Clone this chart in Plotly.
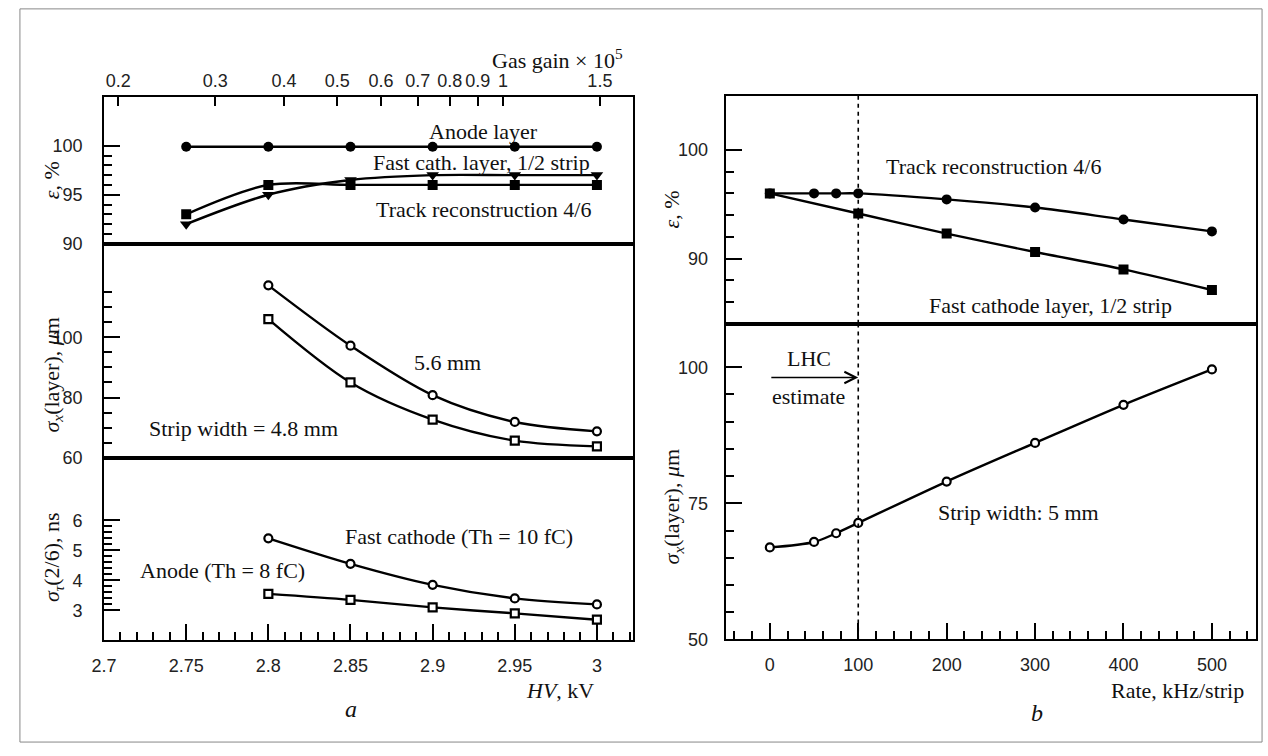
import plotly.graph_objects as go

W, H = 1268, 756

# ---------------- data: panel a (HV scan) ----------------
hv_eff = [2.75, 2.8, 2.85, 2.9, 2.95, 3.0]
gas_gain = [0.266, 0.375, 0.53, 0.75, 1.05, 1.5]
eff_anode = [99.9, 99.9, 99.9, 99.9, 99.9, 99.9]
eff_fast_cath = [92.0, 95.0, 96.5, 97.0, 97.0, 97.0]
eff_track = [93.0, 96.0, 96.0, 96.0, 96.0, 96.0]

hv_res = [2.8, 2.85, 2.9, 2.95, 3.0]
sigx_56 = [117.2, 97.2, 80.8, 71.9, 68.8]
sigx_48 = [106.0, 85.0, 72.7, 65.7, 63.8]

sigt_cath = [5.40, 4.55, 3.85, 3.40, 3.20]
sigt_anode = [3.55, 3.35, 3.10, 2.90, 2.69]

# ---------------- data: panel b (rate scan) ----------------
rate_track = [0, 50, 75, 100, 200, 300, 400, 500]
eff_track_rate = [96.0, 96.0, 96.0, 96.0, 95.45, 94.7, 93.6, 92.5]
rate_cath = [0, 100, 200, 300, 400, 500]
eff_cath_rate = [96.0, 94.15, 92.3, 90.6, 89.0, 87.1]
rate_sig = [0, 50, 75, 100, 200, 300, 400, 500]
sigx_rate = [66.9, 67.9, 69.5, 71.4, 79.0, 86.1, 93.1, 99.6]
lhc_rate = 100

gain_ticks = [0.2, 0.3, 0.4, 0.5, 0.6, 0.7, 0.8, 0.9, 1, 1.5]
gain_ticktext = ["0.2", "0.3", "0.4", "0.5", "0.6", "0.7", "0.8", "0.9", "1", "1.5"]


def px(x):
    return x / W


def py(y):
    return 1 - y / H


SERIF = "Liberation Serif, Times New Roman, serif"
SANS = "Liberation Sans, Arial, sans-serif"
LW = 2.4

fig = go.Figure()


def line_trace(x, y, xa, ya, symbol, size, open_=False):
    fig.add_trace(go.Scatter(
        x=x, y=y, xaxis=xa, yaxis=ya, mode="lines+markers",
        line=dict(color="black", width=LW, shape="spline", smoothing=0.9),
        marker=dict(symbol=symbol, size=size,
                    color="white" if open_ else "black",
                    line=dict(color="black", width=2.2 if open_ else 0)),
        showlegend=False, hoverinfo="skip"))


# panel a, top (efficiency)
line_trace(hv_eff, eff_anode, "x3", "y3", "circle", 10)
line_trace(hv_eff, eff_fast_cath, "x3", "y3", "triangle-down", 11)
line_trace(hv_eff, eff_track, "x3", "y3", "square", 10)
# invisible trace carrying the gas gain for the top axis
fig.add_trace(go.Scatter(x=gas_gain, y=eff_anode, xaxis="x4", yaxis="y3",
                         mode="markers", marker=dict(opacity=0),
                         showlegend=False, hoverinfo="skip"))
# panel a, middle (sigma_x)
line_trace(hv_res, sigx_56, "x2", "y2", "circle", 8, True)
line_trace(hv_res, sigx_48, "x2", "y2", "square", 8, True)
# panel a, bottom (sigma_t)
line_trace(hv_res, sigt_cath, "x", "y", "circle", 8, True)
line_trace(hv_res, sigt_anode, "x", "y", "square", 8, True)
# panel b, top (efficiency)
line_trace(rate_track, eff_track_rate, "x6", "y6", "circle", 10)
line_trace(rate_cath, eff_cath_rate, "x6", "y6", "square", 10)
# panel b, bottom (sigma_x)
line_trace(rate_sig, sigx_rate, "x5", "y5", "circle", 8, True)

tickfont = dict(family=SANS, size=18, color="#222")

common_ax = dict(showline=True, linewidth=2, linecolor="black", mirror=True,
                 showgrid=False, zeroline=False, tickfont=tickfont,
                 ticks="inside", tickcolor="black", tickwidth=2)
noticks_ax = {k: v for k, v in common_ax.items() if k != "ticks"}


def minor(**kw):
    return dict(ticklen=8, ticks="inside", tickcolor="black", tickwidth=2, **kw)


xa_left = [px(92), px(626)]
xa_right = [px(720), px(1256)]

fig.update_layout(
    width=W, height=H, margin=dict(l=0, r=0, t=0, b=0),
    paper_bgcolor="white", plot_bgcolor="white",
    # ---- left bottom
    xaxis=dict(**common_ax, domain=xa_left, anchor="y", range=[2.7, 3.0217],
               tickvals=[2.7, 2.75, 2.8, 2.85, 2.9, 2.95, 3.0],
               ticktext=["2.7", "2.75", "2.8", "2.85", "2.9", "2.95", "3"],
               ticklen=16, ticklabelstandoff=8,
               minor=minor(dtick=0.01, tick0=2.7)),
    yaxis=dict(**common_ax, domain=[py(649), py(464)], anchor="x", range=[2.0, 8.08],
               tickvals=[3, 4, 5, 6], ticklen=16, ticklabelstandoff=16,
               minor=minor(tickvals=[3.2, 3.4, 3.6, 3.8, 4.2, 4.4, 4.6, 4.8,
                                     5.2, 5.4, 5.6, 5.8])),
    # ---- left middle
    xaxis2=dict(**noticks_ax, ticks="", domain=xa_left, anchor="y2", matches="x",
                showticklabels=False),
    yaxis2=dict(**common_ax, domain=[py(464), py(247)], anchor="x2", range=[60, 131],
                tickvals=[60, 80, 100], ticklen=16, ticklabelstandoff=16,
                minor=minor(tickvals=[65, 70, 75, 85, 90, 95, 105, 110, 115])),
    # ---- left top
    xaxis3=dict(**noticks_ax, ticks="", domain=xa_left, anchor="y3", matches="x",
                showticklabels=False),
    yaxis3=dict(**common_ax, domain=[py(247), py(98)], anchor="x3", range=[90, 105],
                tickvals=[90, 95, 100], ticklen=16, ticklabelstandoff=16,
                minor=minor(tickvals=[91, 92, 93, 94, 96, 97, 98, 99])),
    xaxis4=dict(showline=False, showgrid=False, zeroline=False, tickfont=tickfont,
                overlaying="x3", side="top", anchor="y3", type="log",
                range=[-0.725, 0.2355], tickvals=gain_ticks, ticktext=gain_ticktext,
                ticks="inside", ticklen=9, tickwidth=2, tickcolor="black",
                ticklabelstandoff=5),
    # ---- right bottom
    xaxis5=dict(**common_ax, domain=xa_right, anchor="y5", range=[-50, 550],
                tickvals=[0, 100, 200, 300, 400, 500], ticklen=16, ticklabelstandoff=8,
                minor=minor(dtick=20, tick0=0)),
    yaxis5=dict(**common_ax, domain=[py(648), py(328)], anchor="x5", range=[50, 108],
                tickvals=[50, 75, 100], ticklen=16, ticklabelstandoff=12,
                minor=minor(tickvals=[55, 60, 65, 70, 80, 85, 90, 95])),
    # ---- right top
    xaxis6=dict(**noticks_ax, ticks="", domain=xa_right, anchor="y6", matches="x5",
                showticklabels=False),
    yaxis6=dict(**common_ax, domain=[py(328), py(97)], anchor="x6", range=[84, 105],
                tickvals=[90, 100], ticklen=16, ticklabelstandoff=12,
                minor=minor(tickvals=[86, 88, 92, 94, 96, 98])),
)

# dashed LHC line through both right panels
for ya in ("y5", "y6"):
    fig.add_shape(type="line", xref="x5", yref=f"{ya} domain",
                  x0=lhc_rate, x1=lhc_rate, y0=0, y1=1,
                  line=dict(color="black", width=1.6, dash="4px,4px"))

# outer frame
fig.add_shape(type="rect", xref="paper", yref="paper",
              x0=px(7), x1=px(1262), y0=py(752), y1=py(9),
              line=dict(color="#888", width=1))

ann = []


def text(x, y, s, xref, yref, size=22, **kw):
    d = dict(x=x, y=y, text=s, xref=xref, yref=yref, showarrow=False,
             font=dict(family=SERIF, size=size, color="#111"),
             xanchor="center", yanchor="middle")
    d.update(kw)
    ann.append(d)


# panel a texts
text(2.931, 101.5, "Anode layer", "x3", "y3")
text(2.930, 98.3, "Fast cath. layer, 1/2 strip", "x3", "y3")
text(2.931, 93.5, "Track reconstruction 4/6", "x3", "y3")
text(2.909, 91.5, "5.6 mm", "x2", "y2")
text(2.785, 69.8, "Strip width = 4.8 mm", "x2", "y2")
text(2.916, 5.47, "Fast cathode (Th = 10 fC)", "x", "y")
text(2.772, 4.32, "Anode (Th = 8 fC)", "x", "y")
# panel b texts
text(253, 98.45, "Track reconstruction 4/6", "x6", "y6")
text(317, 85.7, "Fast cathode layer, 1/2 strip", "x6", "y6")
text(281, 73.3, "Strip width: 5 mm", "x5", "y5")
text(44, 101.6, "LHC", "x5", "y5")
text(44, 94.7, "estimate", "x5", "y5")

# axis titles (paper coords)
text(px(618), py(60), "Gas gain × 10<sup>5</sup>", "paper", "paper", xanchor="right")
text(px(553), py(700), "<i>HV</i>, kV", "paper", "paper")
text(px(1177), py(700), "Rate, kHz/strip", "paper", "paper")
text(px(342), py(718), "<i>a</i>", "paper", "paper", size=24)
text(px(1035), py(723), "<i>b</i>", "paper", "paper", size=24)
text(px(39), py(183), "<i>ε</i>, %", "paper", "paper", textangle=-90)
text(px(40), py(380), "<i>σ</i><sub><i>x</i></sub>(layer), <i>μ</i>m", "paper", "paper", textangle=-90)
text(px(40), py(565), "<i>σ</i><sub><i>τ</i></sub>(2/6), ns", "paper", "paper", textangle=-90)
text(px(665), py(212), "<i>ε</i>, %", "paper", "paper", textangle=-90)
text(px(667), py(513), "<i>σ</i><sub><i>x</i></sub>(layer), <i>μ</i>m", "paper", "paper", textangle=-90)

# LHC arrow
ann.append(dict(x=lhc_rate, y=98.1, ax=0, ay=98.1, xref="x5", yref="y5",
                axref="x5", ayref="y5", showarrow=True, arrowhead=5,
                arrowsize=1.4, arrowwidth=1.6, arrowcolor="black", text=""))

fig.update_layout(annotations=ann)

fig.write_html("out.html", config={"displayModeBar": False})

# remove the browser's default page margin so the figure sits at (0, 0)
with open("out.html", encoding="utf-8") as f:
    html = f.read()
html = html.replace("<head>", "<head><style>html,body{margin:0;padding:0;overflow:hidden;}</style>", 1)
with open("out.html", "w", encoding="utf-8") as f:
    f.write(html)
